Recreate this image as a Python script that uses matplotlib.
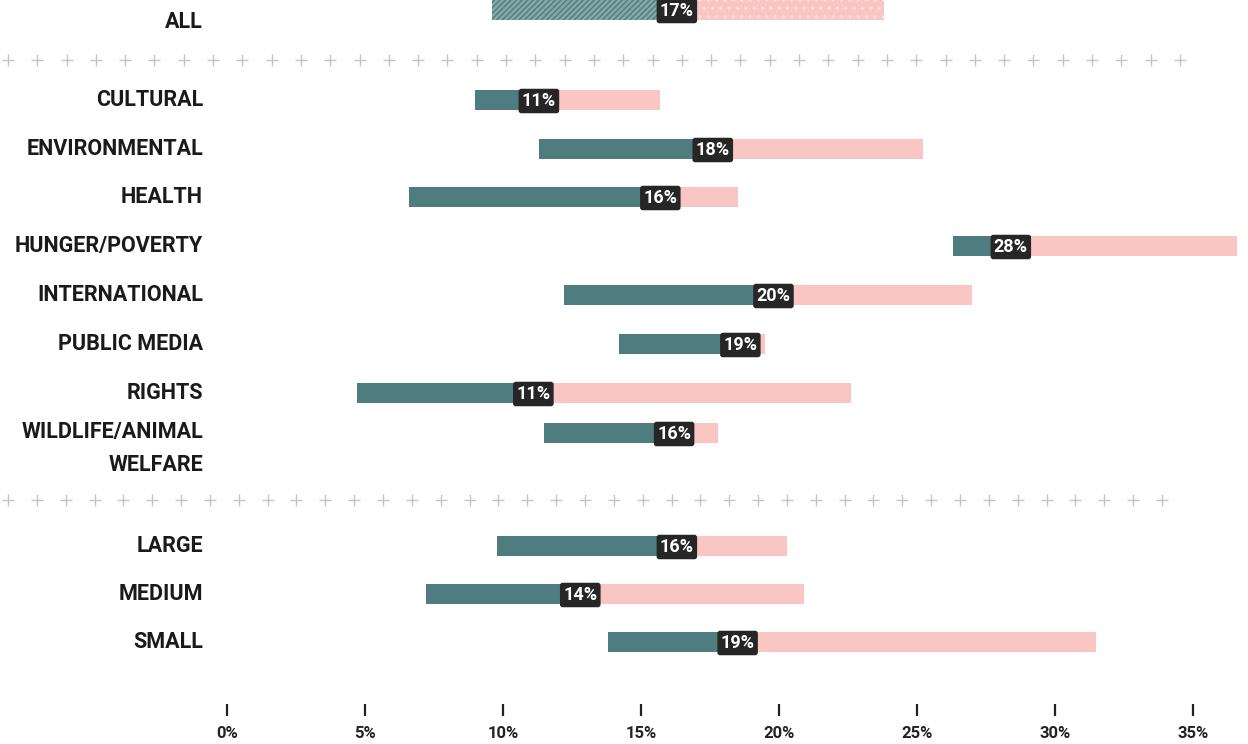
import numpy as np
import matplotlib.pyplot as plt

plt.rcParams['font.family'] = ['Roboto', 'DejaVu Sans']

# ==================== data ====================
categories = ['ALL',
              'CULTURAL', 'ENVIRONMENTAL', 'HEALTH', 'HUNGER/POVERTY', 'INTERNATIONAL',
              'PUBLIC MEDIA', 'RIGHTS', 'WILDLIFE/ANIMAL\nWELFARE',
              'LARGE', 'MEDIUM', 'SMALL']
low = [9.6, 9.0, 11.3, 6.6, 26.3, 12.2, 14.2, 4.7, 11.5, 9.8, 7.2, 13.8]
# where the bar changes colour
split = [16.3, 11.3, 17.6, 15.7, 28.4, 19.8, 18.6, 11.1, 16.2, 16.3, 12.8, 18.5]
median_label = [17, 11, 18, 16, 28, 20, 19, 11, 16, 16, 14, 19]
high = [23.8, 15.7, 25.2, 18.5, 36.6, 27.0, 19.5, 22.6, 17.8, 20.3, 20.9, 31.5]
xticks = [0, 5, 10, 15, 20, 25, 30, 35]

TEAL = '#4f7c7e'
PINK = '#fac6c4'
BOX = '#262626'

# ==================== layout (pixel rows, y down) ====================
W, H = 1248, 744
x0_px, px_per_pct = 227, 27.6
row_y = [10, 100, 149, 197, 246, 295, 344, 393, 433, 546, 594, 642]
sep_rows = [(60, 1182, 29.3), (500, 1166, 28.85)]

fig = plt.figure(figsize=(W / 100, H / 100), dpi=100)
ax = fig.add_axes([0, 0, 1, 1])
ax.set_xlim(-x0_px / px_per_pct, (W - x0_px) / px_per_pct)
ax.set_ylim(H, 0)
ax.axis('off')

bar_h = 20
label_x = -0.87
for i, cat in enumerate(categories):
    yc = row_y[i]
    if i == 0:
        # 整体一行：斜线填充
        ax.barh(yc, split[i] - low[i], left=low[i], height=bar_h, color='#86a8a9',
                edgecolor=TEAL, hatch='//////', linewidth=0)
        ax.barh(yc, high[i] - split[i], left=split[i], height=bar_h, color=PINK,
                edgecolor='#fde2e1', hatch='..', linewidth=0)
    else:
        ax.barh(yc, split[i] - low[i], left=low[i], height=bar_h, color=TEAL, linewidth=0)
        ax.barh(yc, high[i] - split[i], left=split[i], height=bar_h, color=PINK, linewidth=0)
    ax.text(split[i], yc + 1, f'{median_label[i]}%', ha='center', va='center', color='white',
            fontsize=13, fontweight='bold',
            bbox=dict(boxstyle='round,pad=0.18,rounding_size=0.15', fc=BOX, ec='none'))

    if '\n' in cat:
        ax.text(label_x, yc - 12, cat, ha='right', va='top', fontsize=15.5, fontweight='bold',
                color='#1a1a1a', linespacing=1.65)
    else:
        ly = yc + 12 if i == 0 else yc
        ax.text(label_x, ly, cat, ha='right', va='center', fontsize=15.5, fontweight='bold',
                color='#1a1a1a')

# 分隔线：一排浅灰色加号
for sep_y, end_px, gap in sep_rows:
    xs_px = np.arange(8, end_px, gap)
    ax.plot((xs_px - x0_px) / px_per_pct, np.full(len(xs_px), sep_y), ls='none',
            marker='+', ms=8, mew=1.0, color='#c4c4c4')

# x 轴刻度
for t in xticks:
    ax.plot([t, t], [704, 716], color='#222222', lw=1.6, solid_capstyle='butt')
    ax.text(t, 733, f'{t}%', ha='center', va='center', fontsize=12, fontweight='bold',
            color='#222222')

fig.savefig('out.png', dpi=100)
